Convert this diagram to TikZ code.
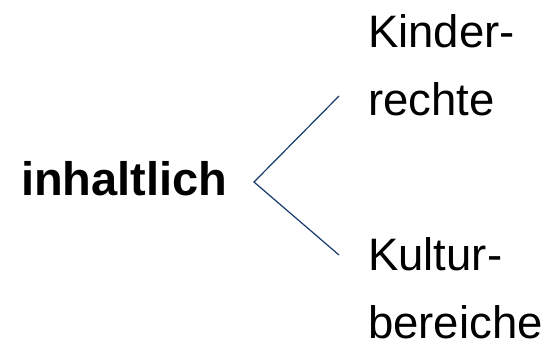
\documentclass[tikz,border=0pt]{standalone}
\usepackage{fontspec}
\setmainfont{Liberation Sans}
\definecolor{linecol}{RGB}{22,58,110}
\begin{document}
\begin{tikzpicture}[x=1pt,y=-1pt,
  lbl/.style={inner sep=0pt,align=left,font=\fontsize{45.5}{67.5}\selectfont},
  blbl/.style={inner sep=0pt,font=\fontsize{47}{56}\bfseries\selectfont},
  conn/.style={draw=linecol,line width=1.2pt}]
\useasboundingbox (0,0) rectangle (554,346);
\node[blbl,anchor=base west] (inh) at (21,195) {inhaltlich};
\node[lbl,anchor=base west] (kr) at (368,115) {Kinder-\\rechte};
\node[lbl,anchor=base west] (kb) at (368,338) {Kultur-\\bereiche};
\coordinate (v) at (254,182);
\coordinate (t) at (339,96);
\coordinate (b) at (339,255);
\draw[conn] (t) -- (v) -- (b);
\end{tikzpicture}
\end{document}
